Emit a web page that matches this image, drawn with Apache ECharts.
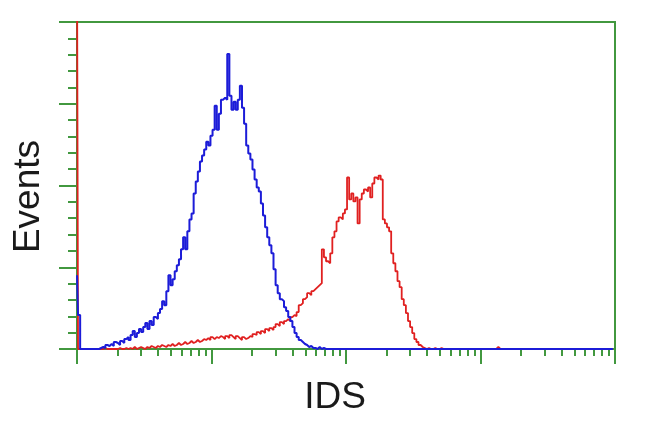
<!DOCTYPE html>
<html>
<head>
<meta charset="utf-8">
<script src="https://cdn.jsdelivr.net/npm/echarts@6/dist/echarts.min.js"></script>
<style>html,body{margin:0;padding:0;background:#fff}#c{width:650px;height:432px}</style>
</head>
<body>
<div id="c"></div>
<script>
// Histogram channels (256 channels over 4 log decades)
const channelCount = 256;
const decadeLabels = ['10^0', '10^1', '10^2', '10^3', '10^4'];

// Blue (control) counts, channel 0 .. 117
const blueCounts = [
  74, 34, 0, 0, 0, 0, 0, 0, 0, 0, 0,
  1, 2, 1, 4, 3, 5, 3, 7, 6, 4, 8, 6, 10, 12, 9, 14, 18, 12, 16, 20, 17, 22, 26, 20, 28, 24, 32, 30, 36, 40,
  48, 44, 58, 74, 64, 70, 78, 84, 90, 100, 112, 100, 118, 130, 136, 156, 168, 178,
  188, 194, 200, 208, 204, 214, 220, 244, 220, 236, 250, 252, 250, 296, 254, 240, 248, 240, 250, 264, 242, 226,
  204, 196, 190, 180, 170, 162, 158, 146, 134, 122, 112, 104, 96, 80, 64, 56, 50, 48, 42, 38, 32, 28, 22, 16, 12, 9, 7, 5, 4, 2, 3, 1, 1, 0, 2, 0, 1
];

// Red (IDS) counts, channel 0 .. 200
const redCounts = [
  400, 0, 0, 0, 0, 0, 0, 0, 0, 0, 0, 0, 0,
  1, 0, 0, 0, 0, 0, 0,
  1, 0, 0, 1, 0, 1, 0, 2, 0, 1, 2, 1, 0, 2, 1, 3, 2, 1, 3, 2, 4, 3, 2, 4, 3, 5, 3, 4, 6, 4, 5, 7, 5, 6, 8,
  6, 7, 9, 7, 8, 10, 9, 11, 9, 12, 10, 12, 11, 13, 12, 10, 13, 11, 14, 12, 10, 13, 11, 9, 12, 10, 11, 13, 12, 15,
  14, 17, 15, 18, 16, 20, 18, 21, 19, 22, 25, 23, 27, 25, 28, 30, 28, 32, 34, 33, 37, 44, 46, 50, 52, 56, 54, 58, 60, 62, 64, 66,
  100, 92, 88, 86, 96, 112, 118, 128, 132, 130, 136, 140, 172, 150, 156, 148, 152, 126, 150, 156,
  160, 158, 162, 152, 166, 172, 170, 174, 170, 130, 126, 122, 118, 96, 86, 78, 68, 62, 50, 44,
  36, 28, 22, 16, 10, 7, 4, 2, 1, 0, 1, 0, 0, 1, 0, 0, 1,
  0, 0, 0, 0, 0, 0, 0, 0, 0, 0, 0, 0, 0, 0, 0, 0, 0, 0, 0, 0, 0, 0, 0, 0, 0, 0,
  2
];

const GREEN = '#42983f';
const perDecade = channelCount / (decadeLabels.length - 1);

function toSeries(arr) {
  const out = [];
  for (let c = 0; c < channelCount; c++) out.push([c, arr[c] || 0]);
  return out;
}

// minor log ticks (2..9 in each decade)
const minorTicks = [];
for (let d = 0; d < decadeLabels.length - 1; d++) {
  for (let k = 2; k <= 9; k++) minorTicks.push(d * perDecade + perDecade * Math.log10(k));
}

const chart = echarts.init(document.getElementById('c'), null, {renderer: 'canvas'});
chart.setOption({
  animation: false,
  backgroundColor: '#fff',
  grid: {left: 77, right: 35, top: 22, bottom: 83, show: true, borderColor: GREEN, borderWidth: 2, backgroundColor: 'transparent'},
  xAxis: [{
    type: 'value', min: 0, max: channelCount, interval: perDecade,
    name: 'IDS', nameLocation: 'middle', nameGap: 30,
    nameTextStyle: {fontFamily: 'Liberation Sans, Arial, sans-serif', fontSize: 37, color: '#1a1a1a', padding: [0, 22, 0, 0]},
    axisLine: {show: true, lineStyle: {color: GREEN, width: 2}},
    axisTick: {show: true, length: 15, lineStyle: {color: GREEN, width: 2}},
    axisLabel: {show: false},
    splitLine: {show: false}
  }, {
    type: 'value', min: 0, max: channelCount, position: 'bottom',
    axisLine: {show: false},
    axisTick: {show: true, length: 7, customValues: minorTicks, lineStyle: {color: GREEN, width: 2}},
    axisLabel: {show: false},
    splitLine: {show: false}
  }],
  yAxis: {
    type: 'value', min: 0, max: 328, interval: 82,
    name: 'Events', nameLocation: 'middle', nameGap: 30,
    nameTextStyle: {fontFamily: 'Liberation Sans, Arial, sans-serif', fontSize: 37, color: '#1a1a1a', padding: [0, 22, 0, 0]},
    axisLine: {show: true, lineStyle: {color: GREEN, width: 2}},
    axisTick: {show: true, length: 18, lineStyle: {color: GREEN, width: 2}},
    minorTick: {show: true, splitNumber: 5, length: 9, lineStyle: {color: GREEN, width: 2}},
    axisLabel: {show: false},
    splitLine: {show: false}
  },
  series: [{
    type: 'line', name: 'IDS', data: toSeries(redCounts), step: 'middle',
    showSymbol: false, clip: true, lineStyle: {color: '#e02020', width: 1.8}, z: 3
  }, {
    type: 'line', name: 'Control', data: toSeries(blueCounts), step: 'middle',
    showSymbol: false, clip: true, lineStyle: {color: '#1c1cd8', width: 2}, z: 4
  }]
});
</script>
</body>
</html>
